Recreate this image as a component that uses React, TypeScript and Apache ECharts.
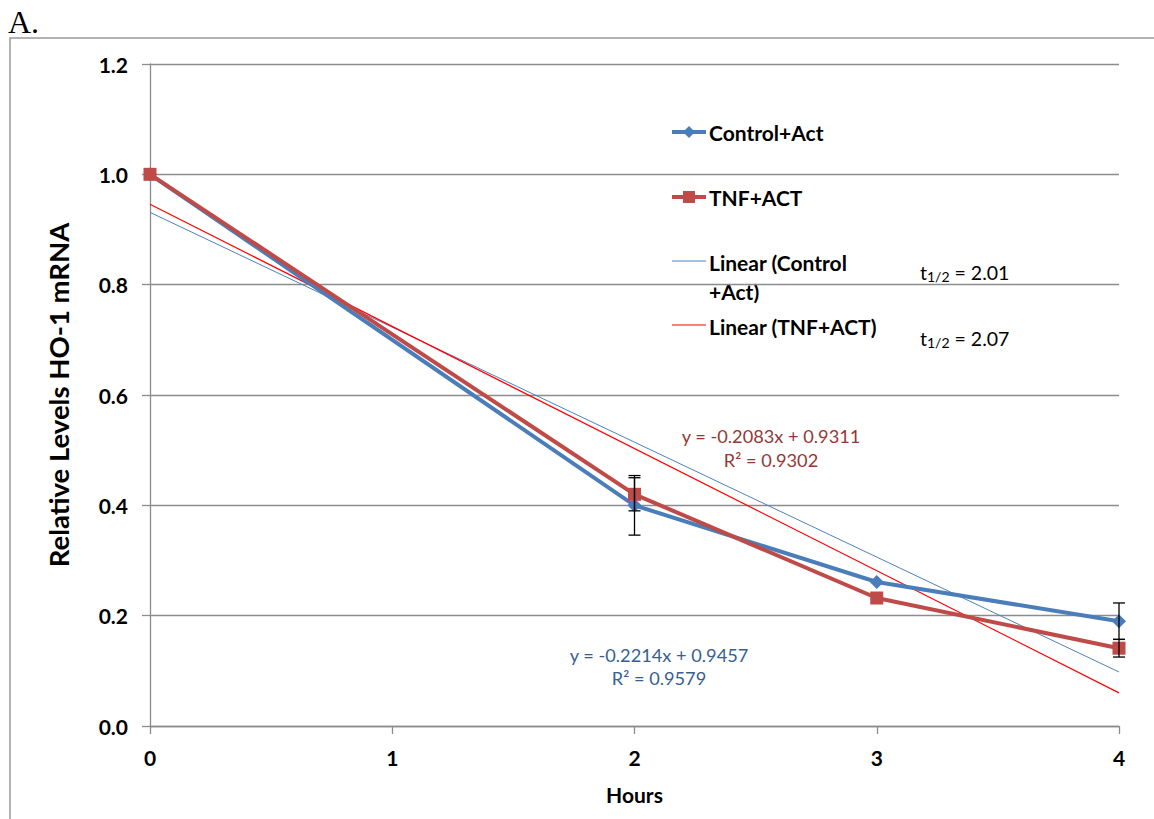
import React, { useEffect, useRef } from "react";
import * as echarts from "echarts";

const hours = [0, 2, 3, 4];
const controlValues = [1.0, 0.4, 0.261, 0.19];
const tnfValues = [1.0, 0.42, 0.232, 0.141];
const controlErr = [0, 0.054, 0, 0.033];
const tnfErr = [0, 0.03, 0, 0.016];
const trendX = [0, 4];
const controlTrend = [0.9311, 0.0979];
const tnfTrend = [0.9457, 0.0601];
const yTicks = [0, 0.2, 0.4, 0.6, 0.8, 1.0, 1.2];

const FONT = "Lato";
const BLUE = "#4A7EBB";
const RED = "#BE4B48";

export default function App() {
  const ref = useRef<HTMLDivElement>(null);
  useEffect(() => {
    document.body.style.margin = "0";
    const chart = echarts.init(ref.current!, null, { renderer: "svg" });
    const ctrlData = hours.map((h, i) => [h, controlValues[i]]);
    const tnfData = hours.map((h, i) => [h, tnfValues[i]]);
    const errData: number[][] = [];
    hours.forEach((h, i) => {
      if (controlErr[i] > 0) errData.push([h, controlValues[i], controlErr[i]]);
      if (tnfErr[i] > 0) errData.push([h, tnfValues[i], tnfErr[i]]);
    });
    const legendX = 672;
    const legendTextX = 709;
    const legendStyle = { fontFamily: FONT, fontSize: 21, fontWeight: "bold" as const, fill: "#000" };
    const halfRich = {
      a: { fontFamily: FONT, fontSize: 19.5, fill: "#000" },
      s: { fontFamily: FONT, fontSize: 14, fill: "#000", padding: [9, 0, 0, 0] },
    };
    chart.setOption({
      animation: false,
      grid: { left: 150, right: 35, top: 64, bottom: 93 },
      xAxis: {
        type: "value",
        min: 0,
        max: 4,
        interval: 1,
        name: "Hours",
        nameLocation: "middle",
        nameGap: 58,
        nameTextStyle: { fontFamily: FONT, fontSize: 21, fontWeight: "bold", color: "#000" },
        axisLine: { lineStyle: { color: "#8c8c8c", width: 1.3 } },
        axisTick: { show: true, length: 8, lineStyle: { color: "#8c8c8c", width: 1.3 } },
        axisLabel: { fontFamily: FONT, fontSize: 21, fontWeight: "bold", color: "#000", margin: 21 },
        splitLine: { show: false },
      },
      yAxis: {
        type: "value",
        min: 0,
        max: 1.2,
        interval: 0.2,
        name: "Relative Levels HO-1 mRNA",
        nameLocation: "middle",
        nameGap: 78,
        nameTextStyle: { fontFamily: FONT, fontSize: 27.5, fontWeight: "bold", color: "#000" },
        axisLine: { show: true, lineStyle: { color: "#8c8c8c", width: 1.3 } },
        axisTick: { show: true, length: 8, lineStyle: { color: "#8c8c8c", width: 1.3 } },
        axisLabel: {
          fontFamily: FONT,
          fontSize: 21,
          fontWeight: "bold",
          color: "#000",
          margin: 22,
          formatter: (v: number) => {
            const t = yTicks.find((k) => Math.abs(k - v) < 1e-6);
            return (t !== undefined ? t : v).toFixed(1);
          },
        },
        splitLine: { show: true, lineStyle: { color: "#8c8c8c", width: 1.3 } },
      },
      series: [
        {
          name: "Linear (Control +Act)",
          type: "line",
          data: trendX.map((x, i) => [x, controlTrend[i]]),
          symbol: "none",
          lineStyle: { color: "#4F81BD", width: 1 },
          z: 3,
        },
        {
          name: "Linear (TNF+ACT)",
          type: "line",
          data: trendX.map((x, i) => [x, tnfTrend[i]]),
          symbol: "none",
          lineStyle: { color: "#FF0000", width: 1.2 },
          z: 3,
        },
        {
          name: "Control+Act",
          type: "line",
          data: ctrlData,
          symbol: "diamond",
          symbolSize: 14,
          itemStyle: { color: BLUE },
          lineStyle: { color: BLUE, width: 4 },
          z: 4,
        },
        {
          name: "TNF+ACT",
          type: "line",
          data: tnfData,
          symbol: "rect",
          symbolSize: 13,
          itemStyle: { color: RED },
          lineStyle: { color: RED, width: 4 },
          z: 4,
        },
        {
          type: "custom",
          name: "errors",
          data: errData,
          z: 5,
          renderItem: (params: any, api: any) => {
            const x = api.value(0);
            const y = api.value(1);
            const e = api.value(2);
            const top = api.coord([x, y + e]);
            const bot = api.coord([x, y - e]);
            const w = 6;
            const st = { stroke: "#000", lineWidth: 1.3 };
            return {
              type: "group",
              children: [
                { type: "line", shape: { x1: top[0], y1: top[1], x2: bot[0], y2: bot[1] }, style: st },
                { type: "line", shape: { x1: top[0] - w, y1: top[1], x2: top[0] + w, y2: top[1] }, style: st },
                { type: "line", shape: { x1: bot[0] - w, y1: bot[1], x2: bot[0] + w, y2: bot[1] }, style: st },
              ],
            };
          },
        },
      ],
      graphic: [
        { type: "rect", shape: { x: 10, y: 38, width: 1300, height: 900 }, style: { fill: "none", stroke: "#999", lineWidth: 1.5 }, silent: true },
        { type: "text", x: 8, y: 22, style: { text: "A.", fontFamily: "Liberation Serif", fontSize: 32, fill: "#000", textVerticalAlign: "middle" } },
        // legend
        { type: "line", shape: { x1: legendX, y1: 132, x2: legendX + 34, y2: 132 }, style: { stroke: BLUE, lineWidth: 4 } },
        { type: "polygon", shape: { points: [[689, 126], [695, 132], [689, 138], [683, 132]] }, style: { fill: BLUE } },
        { type: "text", x: legendTextX, y: 132, style: { ...legendStyle, text: "Control+Act", textVerticalAlign: "middle" } },
        { type: "line", shape: { x1: legendX, y1: 197, x2: legendX + 34, y2: 197 }, style: { stroke: RED, lineWidth: 4 } },
        { type: "rect", shape: { x: 683, y: 191, width: 12, height: 12 }, style: { fill: RED } },
        { type: "text", x: legendTextX, y: 197, style: { ...legendStyle, text: "TNF+ACT", textVerticalAlign: "middle" } },
        { type: "line", shape: { x1: legendX, y1: 261, x2: legendX + 34, y2: 261 }, style: { stroke: "#4F81BD", lineWidth: 1 } },
        { type: "text", x: legendTextX, y: 262, style: { ...legendStyle, text: "Linear (Control", textVerticalAlign: "middle" } },
        { type: "text", x: legendTextX, y: 291, style: { ...legendStyle, text: "+Act)", textVerticalAlign: "middle" } },
        { type: "line", shape: { x1: legendX, y1: 325, x2: legendX + 34, y2: 325 }, style: { stroke: "#FF0000", lineWidth: 1.2 } },
        { type: "text", x: legendTextX, y: 326, style: { ...legendStyle, text: "Linear (TNF+ACT)", textVerticalAlign: "middle" } },
        // half-lives
        { type: "text", x: 920, y: 272, style: { text: "{a|t}{s|1/2}{a| = 2.01}", textVerticalAlign: "middle", rich: halfRich } },
        { type: "text", x: 920, y: 338, style: { text: "{a|t}{s|1/2}{a| = 2.07}", textVerticalAlign: "middle", rich: halfRich } },
        // equations
        { type: "text", x: 771, y: 436, style: { text: "y = -0.2083x + 0.9311", fontFamily: FONT, fontSize: 18.2, fill: "#953735", textAlign: "center", textVerticalAlign: "middle" } },
        { type: "text", x: 771, y: 460, style: { text: "R² = 0.9302", fontFamily: FONT, fontSize: 18.2, fill: "#953735", textAlign: "center", textVerticalAlign: "middle" } },
        { type: "text", x: 659, y: 655, style: { text: "y = -0.2214x + 0.9457", fontFamily: FONT, fontSize: 18.2, fill: "#376092", textAlign: "center", textVerticalAlign: "middle" } },
        { type: "text", x: 659, y: 678, style: { text: "R² = 0.9579", fontFamily: FONT, fontSize: 18.2, fill: "#376092", textAlign: "center", textVerticalAlign: "middle" } },
      ],
    });
    return () => chart.dispose();
  }, []);
  return <div ref={ref} style={{ width: 1154, height: 819 }} />;
}
